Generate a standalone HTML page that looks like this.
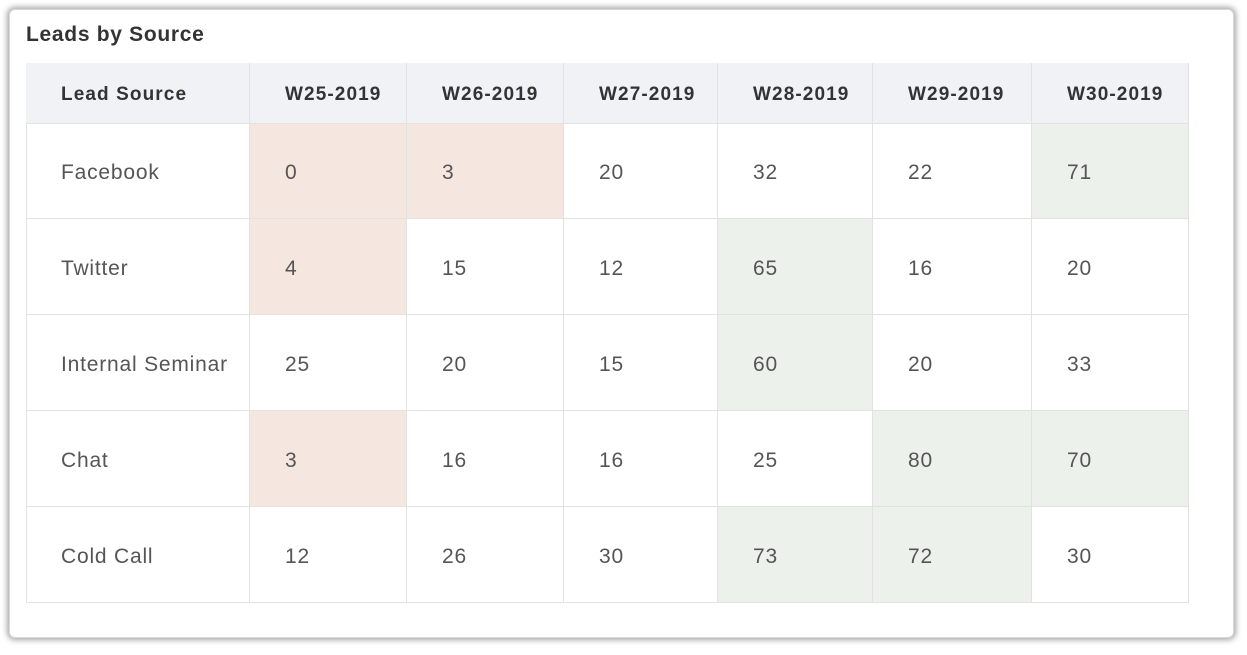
<!DOCTYPE html><html><head><style>
body{margin:0;width:1247px;height:655px;background:#fff;position:relative;overflow:hidden;font-family:"Liberation Sans",sans-serif;}
.card{position:absolute;left:9px;top:9px;width:1223px;height:627px;border:1px solid #d8d8d8;border-radius:6px;box-shadow:0 0 6px 2px rgba(0,0,0,.35);background:#fff;}
.t{position:absolute;left:26px;top:23px;font-size:21px;font-weight:bold;color:#333;letter-spacing:0.7px;}
.c{position:absolute;box-sizing:border-box;border-right:1px solid #e2e2e2;border-bottom:1px solid #e2e2e2;display:flex;align-items:center;padding-left:35px;padding-top:4px;font-size:21px;color:#555;letter-spacing:0.8px;}
.h{background:#f1f2f6;font-weight:bold;color:#333;font-size:19px;letter-spacing:1.1px;}
.r{background:#f5e6e0}.g{background:#ecf1ec}
</style></head><body><div class="card"></div><div class="t">Leads by Source</div>
<div id="tb" style="position:absolute;left:26px;top:63px;width:1163px;height:540px;border-left:1px solid #e2e2e2;border-top:1px solid #e2e2e2;box-sizing:border-box"></div>
<script>
const xs=[26,250,407,564,718,873,1032,1189],ys=[63,124,219,315,411,507,603];
const data=[["Lead Source","W25-2019","W26-2019","W27-2019","W28-2019","W29-2019","W30-2019"],
["Facebook","0","3","20","32","22","71"],["Twitter","4","15","12","65","16","20"],["Internal Seminar","25","20","15","60","20","33"],["Chat","3","16","16","25","80","70"],["Cold Call","12","26","30","73","72","30"]];
const cls={"1,1":"r","1,2":"r","1,6":"g","2,1":"r","2,4":"g","3,4":"g","4,1":"r","4,5":"g","4,6":"g","5,4":"g","5,5":"g"};
let h="";for(let r=0;r<6;r++)for(let c=0;c<7;c++){let k=r==0?"h":(cls[r+","+c]||"");
h+=`<div class="c ${k}" style="left:${xs[c]}px;top:${ys[r]}px;width:${xs[c+1]-xs[c]}px;height:${ys[r+1]-ys[r]}px">${data[r][c]}</div>`;}
document.body.insertAdjacentHTML("beforeend",h);
</script></body></html>
